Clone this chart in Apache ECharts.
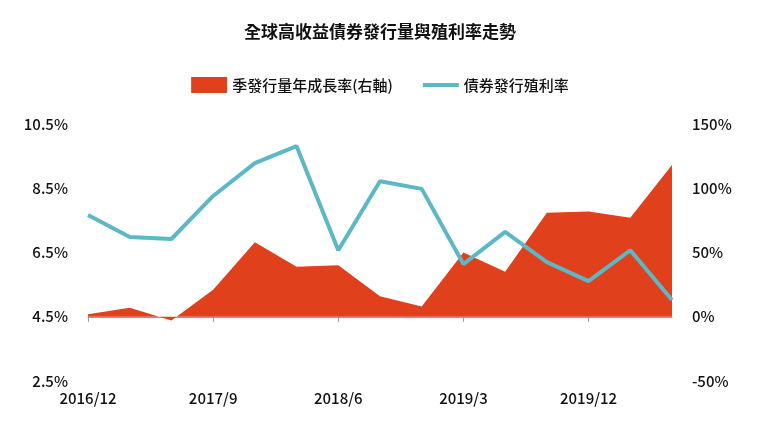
<!DOCTYPE html>
<html><head><meta charset="utf-8">
<script src="https://cdn.jsdelivr.net/npm/echarts@6/dist/echarts.min.js"></script>
<style>html,body{margin:0;background:#fff}#c{width:760px;height:431px}</style>
</head><body><div id="c"></div>
<script>
const categories = ['2016/12','2017/3','2017/6','2017/9','2017/12','2018/3','2018/6','2018/9','2018/12','2019/3','2019/6','2019/9','2019/12','2020/3','2020/6'];
const growthRate = [2,7,-3,21,58,39,40,16,8,50,35,81,82,77,118];
const yieldRate = [7.67,6.98,6.92,8.26,9.28,9.81,6.57,8.72,8.48,6.14,7.14,6.20,5.61,6.57,5.02];
const font = '"Noto Sans CJK TC", sans-serif';
const chart = echarts.init(document.getElementById('c'));
chart.setOption({
  animation:false,
  textStyle:{fontFamily:font},
  title:{text:'全球高收益債券發行量與殖利率走勢',left:'center',top:18,textStyle:{fontSize:17,fontWeight:'bold',color:'#111',fontFamily:font}},
  legend:{top:72,left:'center',itemGap:30,itemWidth:36,itemHeight:16,textStyle:{fontSize:15,color:'#111',fontWeight:500,fontFamily:font},
    data:[{name:'季發行量年成長率(右軸)',icon:'rect'},
          {name:'債券發行殖利率',icon:'path://M0,0 L36,0 L36,4 L0,4 Z',itemStyle:{color:'#5bb8c4'}}]},
  grid:{left:88,right:88,top:124,bottom:50},
  xAxis:{type:'category',data:categories,boundaryGap:false,
    axisLine:{lineStyle:{color:'#999'}},axisTick:{interval:2,lineStyle:{color:'#999'}},
    axisLabel:{interval:2,fontSize:15,color:'#111',fontWeight:500,margin:10}},
  yAxis:[
    {type:'value',min:2.5,max:10.5,interval:2,splitLine:{show:false},
     axisLabel:{formatter:v=>v.toFixed(1)+'%',fontSize:15,color:'#111',fontWeight:500,margin:20}},
    {type:'value',min:-50,max:150,interval:50,splitLine:{show:false},
     axisLabel:{formatter:'{value}%',fontSize:15,color:'#111',fontWeight:500,margin:20}}
  ],
  series:[
    {name:'季發行量年成長率(右軸)',type:'line',yAxisIndex:1,data:growthRate,symbol:'none',
     lineStyle:{width:0},itemStyle:{color:'#e0401c'},areaStyle:{color:'#e0401c',opacity:1,origin:0}},
    {name:'債券發行殖利率',type:'line',yAxisIndex:0,data:yieldRate,symbol:'none',
     lineStyle:{width:4,color:'#5bb8c4'},itemStyle:{color:'#5bb8c4'}}
  ]
});
</script></body></html>
